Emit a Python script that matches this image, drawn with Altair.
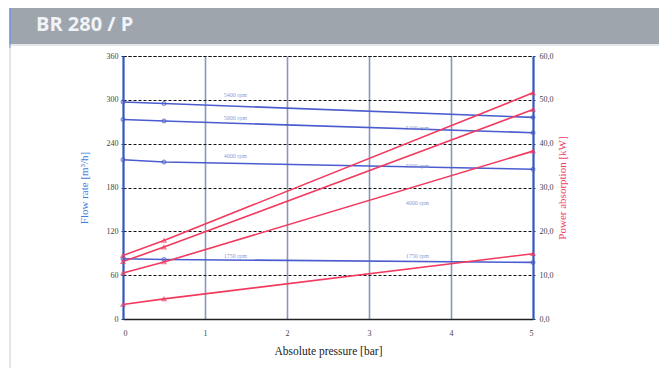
import altair as alt
import pandas as pd

# ---- data ----
pressure = [0, 0.5, 5]
speeds = ["5400 rpm", "5000 rpm", "4000 rpm", "1750 rpm"]
flow_5400 = [297, 295, 276]
flow_5000 = [273, 271, 255]
flow_4000 = [218, 215, 205]
flow_1750 = [82.5, 81.5, 77.5]
power_5400 = [14.5, 17.9, 51.6]
power_5000 = [13.1, 16.4, 47.8]
power_4000 = [10.5, 13.0, 38.3]
power_1750 = [3.3, 4.6, 14.9]

flow_ticks = [0, 60, 120, 180, 240, 300, 360]
power_ticks = [0, 10, 20, 30, 40, 50, 60]
pressure_ticks = [0, 1, 2, 3, 4, 5]

label_left_pressure = 1.37
label_left_flow = [306, 274.6, 222.6, 85.6]
label_right_pressure = 3.59
label_right_flow = [262, 210, 159, 85.6]

title_text = "BR 280 / P"

BLUE = "#4a5ccf"
RED = "#f23a5e"

flows = [flow_5400, flow_5000, flow_4000, flow_1750]
powers = [power_5400, power_5000, power_4000, power_1750]

df_flow = pd.DataFrame(
    [{"pressure": p, "flow": f, "speed": s} for s, vals in zip(speeds, flows) for p, f in zip(pressure, vals)]
)
df_power = pd.DataFrame(
    [{"pressure": p, "power": w, "speed": s} for s, vals in zip(speeds, powers) for p, w in zip(pressure, vals)]
)
df_labels = pd.DataFrame(
    [{"pressure": label_left_pressure, "flow": f, "speed": s} for s, f in zip(speeds, label_left_flow)]
    + [{"pressure": label_right_pressure, "flow": f, "speed": s} for s, f in zip(speeds, label_right_flow)]
)

W, H = 410, 263
SERIF = "Liberation Serif"

xscale = alt.Scale(domain=[0, 5], nice=False, zero=False)
fscale = alt.Scale(domain=[0, 360], nice=False)
pscale = alt.Scale(domain=[0, 60], nice=False)

x_enc = alt.X(
    "pressure:Q",
    scale=xscale,
    axis=alt.Axis(
        values=pressure_ticks,
        format="d",
        title="Absolute pressure [bar]",
        titleFont=SERIF,
        titleFontSize=11.5,
        titleFontWeight="normal",
        titleColor="#222222",
        titlePadding=8,
        labelFont=SERIF,
        labelFontSize=8,
        labelColor="#444444",
        labelPadding=10,
        tickSize=0,
        domainColor="#222222",
        domainWidth=1.5,
        grid=True,
        gridColor="#8798b8",
        gridWidth=1.6,
    ),
)

flow_lines = alt.Chart(df_flow).mark_line(color=BLUE, strokeWidth=1.6).encode(
    x=x_enc,
    y=alt.Y(
        "flow:Q",
        scale=fscale,
        axis=alt.Axis(
            orient="left",
            values=flow_ticks,
            title="Flow rate [m³/h]",
            titleFont=SERIF,
            titleFontSize=11,
            titleFontWeight="normal",
            titleColor="#3f7ee0",
            titlePadding=17,
            labelFont=SERIF,
            labelFontSize=8,
            labelColor="#444444",
            labelPadding=3,
            tickSize=2,
            tickColor="#333333",
            domainColor="#2f55c8",
            domainWidth=2,
            grid=True,
            gridColor="#111111",
            gridDash=[3, 2],
            gridWidth=1,
        ),
    ),
    detail="speed:N",
)
flow_pts = alt.Chart(df_flow).mark_point(
    shape="circle", color=BLUE, size=14, filled=False, strokeWidth=1.2
).encode(
    x=alt.X("pressure:Q", scale=xscale),
    y=alt.Y("flow:Q", scale=fscale, axis=None),
)

power_lines = alt.Chart(df_power).mark_line(color=RED, strokeWidth=1.6).encode(
    x=alt.X("pressure:Q", scale=xscale),
    y=alt.Y(
        "power:Q",
        scale=pscale,
        axis=alt.Axis(
            orient="right",
            values=power_ticks,
            title="Power absorption [kW]",
            titleAngle=-90,
            titleFont=SERIF,
            titleFontSize=11,
            titleFontWeight="normal",
            titleColor="#f0406e",
            titlePadding=14,
            labelFont=SERIF,
            labelFontSize=8,
            labelColor="#444444",
            labelPadding=4,
            labelExpr="replace(format(datum.value, '.1f'), '.', ',')",
            tickSize=2,
            tickColor="#333333",
            domainColor="#2f55c8",
            domainWidth=2,
            grid=False,
        ),
    ),
    detail="speed:N",
)
power_pts = alt.Chart(df_power).mark_point(
    shape="triangle-up", color=RED, size=16, filled=False, strokeWidth=1.2
).encode(
    x=alt.X("pressure:Q", scale=xscale),
    y=alt.Y("power:Q", scale=pscale, axis=None),
)

labels = alt.Chart(df_labels).mark_text(
    font=SERIF, fontSize=6, color="#7f8fd0", opacity=0.9
).encode(
    x=alt.X("pressure:Q", scale=xscale),
    y=alt.Y("flow:Q", scale=fscale, axis=None),
    text="speed:N",
)

# decorations: title band and outer frame
band = alt.Chart(pd.DataFrame({"t": [title_text]})).mark_rect(color="#9ea5ad").encode(
    x=alt.value(-113), x2=alt.value(540), y=alt.value(-49), y2=alt.value(-12)
)
band_edge = alt.Chart(pd.DataFrame({"t": [title_text]})).mark_rule(color="#6f8fd8", strokeWidth=1.5).encode(
    x=alt.value(-113), y=alt.value(-49), y2=alt.value(-8)
)
frame = alt.Chart(pd.DataFrame({"t": [title_text]})).mark_rect(
    fill="transparent", stroke="#c9cdd2", strokeWidth=1
).encode(
    x=alt.value(-113), x2=alt.value(537), y=alt.value(-11), y2=alt.value(314)
)
title = alt.Chart(pd.DataFrame({"t": [title_text]})).mark_text(
    font="Open Sans", fontSize=20, fontWeight="bold", color="#f1f3f8", align="left", baseline="middle"
).encode(
    x=alt.value(-87), y=alt.value(-31), text="t:N"
)

chart = (
    alt.layer(flow_lines, power_lines, flow_pts, power_pts, labels, band, band_edge, frame, title)
    .resolve_scale(y="independent")
    .properties(
        width=W,
        height=H,
        autosize=alt.AutoSizeParams(type="none"),
        padding={"left": 115, "top": 48, "right": 126, "bottom": 49},
        background="white",
    )
    .configure_view(stroke="#111111", strokeWidth=1, strokeDash=[3, 2])
)

chart.save("out.html", embed_options={"renderer": "svg", "actions": False})
